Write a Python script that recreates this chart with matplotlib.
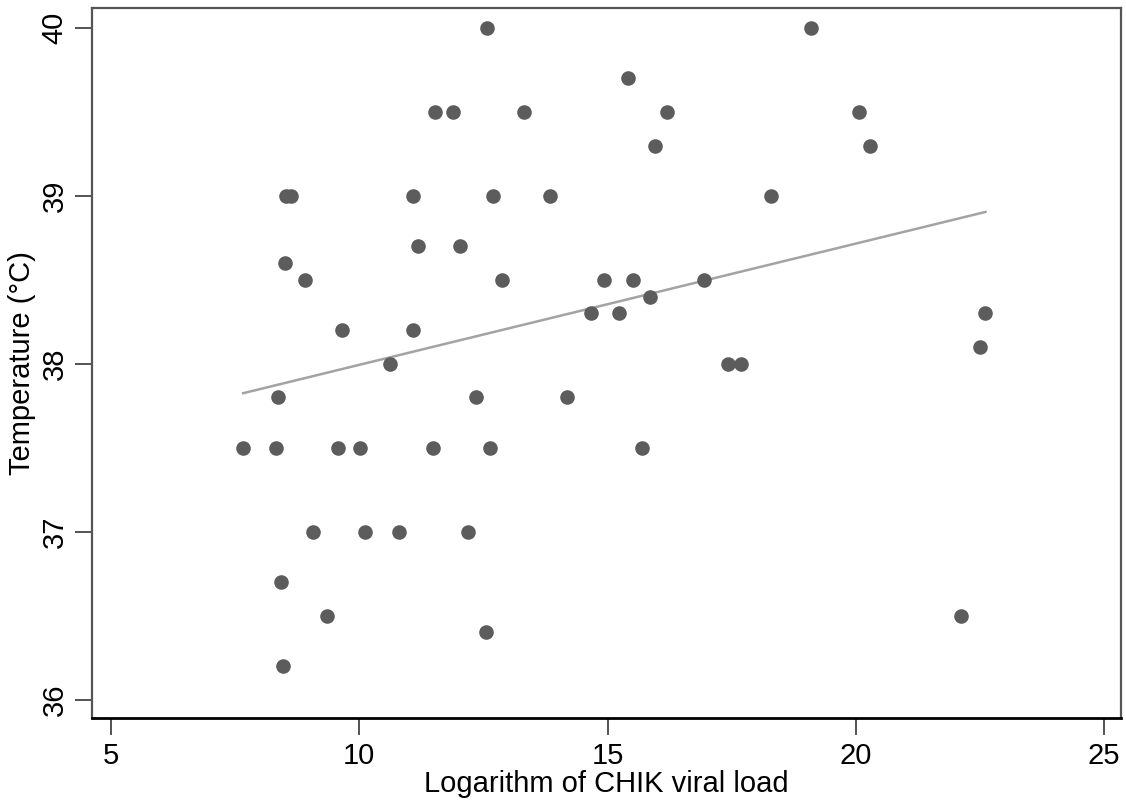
import matplotlib.pyplot as plt

plt.rcParams['font.family'] = ['Liberation Sans', 'DejaVu Sans']

# log viral load vs temperature
viral_load = [7.66, 8.32, 8.36, 8.42, 8.46, 8.50, 8.52, 8.63, 8.91, 9.07,
              9.35, 9.57, 9.65, 10.01, 10.12, 10.62, 10.80, 11.08, 11.08, 11.18,
              11.49, 11.53, 11.89, 12.03, 12.19, 12.35, 12.55, 12.57, 12.63, 12.69,
              12.88, 13.32, 13.84, 14.18, 14.67, 14.92, 15.22, 15.41, 15.51, 15.69,
              15.86, 15.96, 16.20, 16.94, 17.43, 17.68, 18.29, 19.10, 20.07, 20.29,
              22.12, 22.50, 22.61]
temperature = [37.5, 37.5, 37.8, 36.7, 36.2, 38.6, 39.0, 39.0, 38.5, 37.0,
               36.5, 37.5, 38.2, 37.5, 37.0, 38.0, 37.0, 39.0, 38.2, 38.7,
               37.5, 39.5, 39.5, 38.7, 37.0, 37.8, 36.4, 40.0, 37.5, 39.0,
               38.5, 39.5, 39.0, 37.8, 38.3, 38.5, 38.3, 39.7, 38.5, 37.5,
               38.4, 39.3, 39.5, 38.5, 38.0, 38.0, 39.0, 40.0, 39.5, 39.3,
               36.5, 38.1, 38.3]

# fitted line end points
fit_x = [7.66, 22.61]
fit_y = [37.825, 38.905]

fig = plt.figure(figsize=(11.26, 8), dpi=100)
ax = fig.add_axes([0.0817, 0.1025, 0.9139, 0.8875])

ax.plot(viral_load, temperature, 'o', color='#5c5c5c', markersize=10.5,
        markeredgewidth=0, zorder=3)
ax.plot(fit_x, fit_y, color='#a3a3a3', linewidth=1.8, zorder=2)

ax.set_xlim(4.617, 25.34)
ax.set_ylim(35.89, 40.12)
ax.set_xticks([5, 10, 15, 20, 25])
ax.set_yticks([36, 37, 38, 39, 40])
ax.set_yticklabels(['36', '37', '38', '39', '40'], rotation=90, va='center')

ax.tick_params(axis='both', direction='out', length=12, width=1.3,
               colors='#444444', labelcolor='black', labelsize=21, pad=5)

for side in ['top', 'right', 'left']:
    ax.spines[side].set_color('#555555')
    ax.spines[side].set_linewidth(1.6)
ax.spines['bottom'].set_color('black')
ax.spines['bottom'].set_linewidth(2)

ax.set_xlabel('Logarithm of CHIK viral load', fontsize=21, labelpad=0)
ax.set_ylabel('Temperature (°C)', fontsize=21, labelpad=3)

fig.savefig('out.png', dpi=100)
